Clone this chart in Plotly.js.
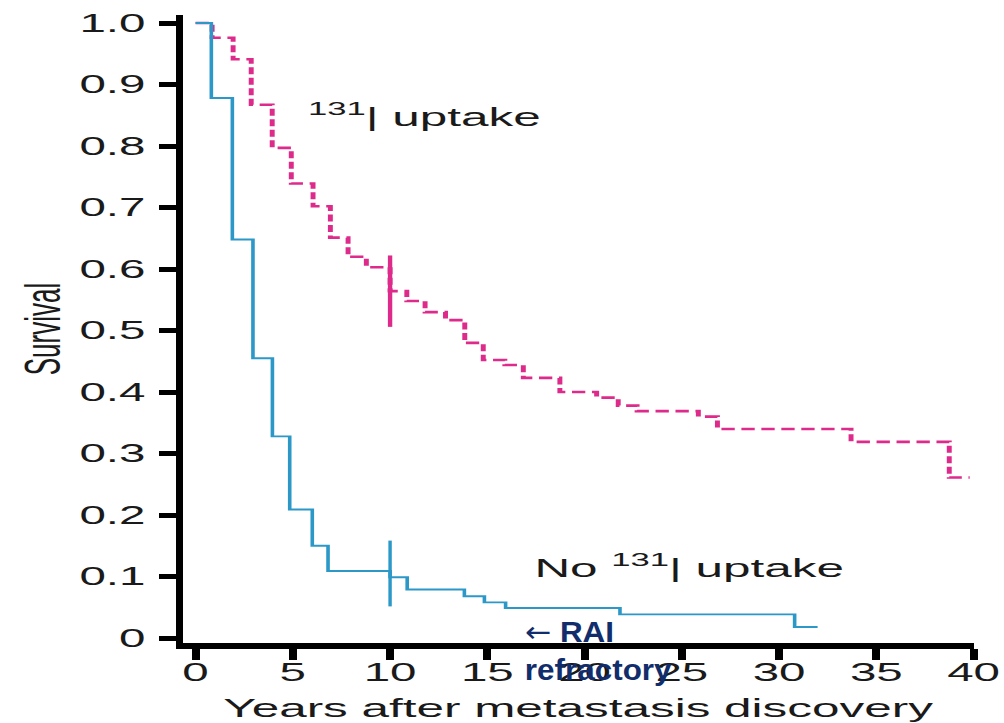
<!DOCTYPE html>
<html><head><meta charset="utf-8">
<script src="https://cdn.plot.ly/plotly-3.0.1.min.js"></script>
<style>
html,body{margin:0;padding:0;background:#fff;overflow:hidden;}
#wrap{width:1004px;height:723px;overflow:hidden;position:relative;}
#chart{width:528px;height:723px;transform:scaleX(1.90152);transform-origin:0 0;}
</style></head><body>
<div id="wrap"><div id="chart"></div></div>
<script>
// Kaplan-Meier survival, years after metastasis discovery
const uptakeYears = [0, 0.85, 1.93, 2.86, 3.94, 4.92, 6.04, 6.93, 7.84, 8.78, 10.0, 10.86, 11.8, 12.85, 13.84, 14.79, 15.9, 16.85, 18.73, 20.62, 21.73, 22.7, 25.85, 26.83, 33.7, 38.75, 39.8];
const uptakeSurv  = [1.0, 0.976, 0.941, 0.867, 0.797, 0.739, 0.702, 0.651, 0.620, 0.603, 0.564, 0.548, 0.530, 0.517, 0.480, 0.452, 0.444, 0.423, 0.400, 0.391, 0.378, 0.369, 0.360, 0.340, 0.319, 0.261, 0.261];
const noUptakeYears = [0, 0.81, 1.89, 2.95, 3.95, 4.84, 6.0, 6.81, 10.0, 10.88, 13.82, 14.85, 15.94, 21.82, 30.8, 31.98];
const noUptakeSurv  = [1.0, 0.878, 0.648, 0.455, 0.328, 0.209, 0.150, 0.109, 0.099, 0.079, 0.068, 0.058, 0.049, 0.0385, 0.018, 0.018];
const uptakeCensorYears = [10];
const uptakeCensorSurv = [0.564];
const noUptakeCensorYears = [10];
const noUptakeCensorSurv = [0.105];

const xTickVals = [0, 5, 10, 15, 20, 25, 30, 35, 40];
const xTickText = ['0', '5', '10', '15', '20', '25', '30', '35', '40'];
const yTickVals = [0, 0.1, 0.2, 0.3, 0.4, 0.5, 0.6, 0.7, 0.8, 0.9, 1.0];
const yTickText = ['0', '0.1', '0.2', '0.3', '0.4', '0.5', '0.6', '0.7', '0.8', '0.9', '1.0'];

const labelUptake = '<sup>131</sup>| uptake';
const labelNoUptake = 'No <sup>131</sup>| uptake';
const labelRAI = '<span style="font-family:DejaVu Sans;font-weight:normal">\u2190</span> RAI<br>refractory';
const xTitle = 'Years after metastasis discovery';
const yTitle = 'Survival';

const PINK = '#de2a8a';
const BLUE = '#2b98c8';
const FONT = 'Liberation Sans, Arial, sans-serif';

const data = [
  {x: uptakeYears, y: uptakeSurv, type: 'scatter', mode: 'lines',
   line: {shape: 'hv', color: PINK, width: 2.6, dash: '7px,3.5px'}, hoverinfo: 'skip'},
  {x: uptakeCensorYears, y: uptakeCensorSurv, type: 'scatter', mode: 'markers',
   marker: {symbol: 'line-ns', size: 51, color: PINK, line: {color: PINK, width: 2.3}}, hoverinfo: 'skip'},
  {x: noUptakeYears, y: noUptakeSurv, type: 'scatter', mode: 'lines',
   line: {shape: 'hv', color: BLUE, width: 1.9}, hoverinfo: 'skip'},
  {x: noUptakeCensorYears, y: noUptakeCensorSurv, type: 'scatter', mode: 'markers',
   marker: {symbol: 'line-ns', size: 47, color: BLUE, line: {color: BLUE, width: 1.8}}, hoverinfo: 'skip'}
];

const layout = {
  width: 528, height: 723,
  margin: {l: 96, r: 16, t: 15, b: 80},
  paper_bgcolor: '#fff', plot_bgcolor: '#fff',
  showlegend: false,
  font: {family: FONT, color: '#1a1a1a'},
  xaxis: {
    range: [-0.67, 40], tickvals: xTickVals, ticktext: xTickText,
    showgrid: false, zeroline: false, showline: true, linecolor: '#000', linewidth: 5.5,
    ticks: 'outside', ticklen: 11, tickwidth: 4.2, tickcolor: '#000',
    tickfont: {family: FONT, size: 25, color: '#1a1a1a'}, ticklabelstandoff: -8,
    title: {text: xTitle, font: {family: FONT, size: 26, color: '#1a1a1a'}, standoff: 17}
  },
  yaxis: {
    range: [-0.008, 1.013], tickvals: yTickVals, ticktext: yTickText,
    showgrid: false, zeroline: false, showline: true, linecolor: '#000', linewidth: 3.5,
    ticks: 'outside', ticklen: 9, tickwidth: 5, tickcolor: '#000',
    tickfont: {family: FONT, size: 25, color: '#1a1a1a'}, ticklabelstandoff: 2,
    title: {text: yTitle, font: {family: FONT, size: 26, color: '#1a1a1a'}, standoff: 3}
  },
  annotations: [
    {x: 5.62, y: 0.85, xref: 'x', yref: 'y', text: labelUptake, showarrow: false,
     xanchor: 'left', yanchor: 'middle', font: {family: FONT, size: 26, color: '#1a1a1a'}},
    {x: 17.26, y: 0.117, xref: 'x', yref: 'y', text: labelNoUptake, showarrow: false,
     xanchor: 'left', yanchor: 'middle', font: {family: FONT, size: 26, color: '#1a1a1a'}},
    {x: 16.72, y: -0.012, xref: 'x', yref: 'paper', text: labelRAI, showarrow: false,
     xanchor: 'left', yanchor: 'middle', align: 'left',
     font: {family: FONT, size: 29, color: '#112d6b', weight: 'bold'}}
  ]
};

Plotly.newPlot('chart', data, layout, {staticPlot: true, displayModeBar: false}).then(function (gd) {
  const anns = gd.querySelectorAll('.annotation');
  if (anns.length > 2) {
    const t = anns[2].querySelector('text.annotation-text');
    if (t) {
      t.style.transformBox = 'fill-box';
      t.style.transformOrigin = 'left center';
      t.style.transform = 'scaleX(0.57)';
    }
  }
});
</script>
</body></html>
